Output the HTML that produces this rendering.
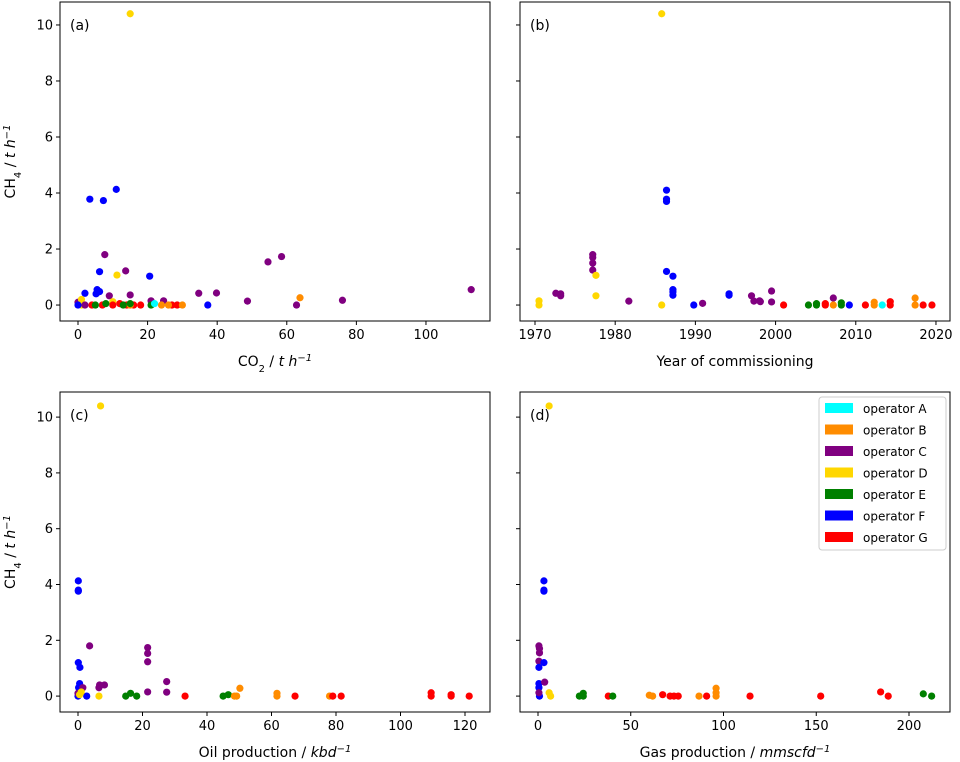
<!DOCTYPE html>
<html><head><meta charset="utf-8"><style>
body{margin:0;background:#fff;}
svg{display:block;font-family:"DejaVu Sans","Liberation Sans",sans-serif;}
</style></head><body>
<svg id="chart" width="960" height="762"></svg>
<script>
const operators=["operator A","operator B","operator C","operator D","operator E","operator F","operator G"];
const opColors=["#00ffff","#ff8c00","#800080","#ffd700","#008000","#0000ff","#ff0000"];
// [x, ch4, operatorIndex]
const dataA=[[15,10.4,3],[3.4,3.78,5],[7.3,3.73,5],[11,4.13,5],[7.7,1.8,2],[6.2,1.19,5],[11.2,1.07,3],[13.7,1.22,2],[20.6,1.03,5],[54.6,1.54,2],[58.5,1.73,2],[34.7,0.42,2],[39.8,0.43,2],[48.7,0.14,2],[63.8,0.26,1],[62.8,0,2],[37.3,0,5],[113,0.55,2],[76,0.17,2],
[2,0.42,5],[5.5,0.55,5],[6.2,0.48,5],[5.2,0.4,5],[9,0.33,2],[15,0.36,2],[21,0.15,2],[24.6,0.15,2],[0,0.1,2],[1,0.2,3],[10,0.12,3],
[4,0,6],[7,0,6],[10,0,6],[12,0.05,6],[14,0,6],[16,0,6],[18,0,6],[27,0,6],[28.5,0,6],[15,0,1],[24,0,1],[26,0,1],[30,0,1],[5,0,4],[8,0.05,4],[13,0,4],[15,0.05,4],[21,0,4],[22,0.05,0],[1,0,3],[0,0,5],[2,0,2]];
const dataB=[[1985.8,10.4,3],[1970.5,0.15,3],[1970.5,0,3],[1972.6,0.42,2],[1973.2,0.4,2],[1973.2,0.33,2],[1977.2,1.8,2],[1977.2,1.7,2],[1977.2,1.5,2],[1977.2,1.25,2],[1977.6,1.06,3],[1977.6,0.33,3],[1981.7,0.14,2],[1985.8,0,3],
[1986.4,4.1,5],[1986.4,3.78,5],[1986.4,3.7,5],[1986.4,1.2,5],[1987.2,1.03,5],[1987.2,0.55,5],[1987.2,0.47,5],[1987.2,0.35,5],[1989.8,0,5],[1990.9,0.06,2],[1994.2,0.35,5],[1994.2,0.4,5],
[1997,0.33,2],[1997.3,0.14,2],[1998,0.15,2],[1998.1,0.12,2],[1999.5,0.5,2],[1999.5,0.11,2],[2001,0,6],[2004.1,0,4],[2005.1,0.05,4],[2005.1,0,4],[2006.2,0.05,6],[2006.2,0,6],[2007.2,0.25,2],[2007.2,0,1],[2008.2,0.08,4],[2008.2,0,4],[2009.2,0,5],
[2011.2,0,6],[2012.3,0.1,1],[2012.3,0,1],[2013.3,0,0],[2014.3,0.12,6],[2014.3,0,6],[2017.4,0.25,1],[2017.4,0,1],[2018.4,0,6],[2019.5,0,6]];
const dataC=[[7,10.4,3],[0.1,4.13,5],[0.1,3.8,5],[0.1,3.76,5],[3.6,1.8,2],[0.1,1.2,5],[0.6,1.03,5],[21.6,1.74,2],[21.6,1.53,2],[21.6,1.23,2],[27.5,0.52,2],[27.5,0.14,2],[21.6,0.15,2],
[0.5,0.45,5],[0.2,0.3,5],[2.7,0,5],[0,0,5],[1.5,0.3,2],[6.7,0.4,2],[8.2,0.4,2],[6.5,0.3,2],[0,0.1,2],[1,0.15,3],[6.5,0,3],[0.5,0.05,3],
[14.8,0,4],[16.3,0.1,4],[18.2,0,4],[33.2,0,6],[45,0,4],[46.6,0.05,4],[49.2,0,1],[50.2,0.28,1],[48.5,0,1],[61.7,0.1,1],[61.7,0,1],[67.3,0,6],[78,0,1],[79,0,6],[81.6,0,6],[109.5,0.12,6],[109.5,0,6],[115.7,0.05,6],[115.7,0,6],[121.3,0,6]];
const dataD=[[6,10.4,3],[3.2,4.13,5],[3.2,3.76,5],[3.2,3.8,5],[0.5,1.8,2],[0.8,1.7,2],[0.8,1.55,2],[0.5,1.25,2],[3.2,1.2,5],[0.5,1.03,5],[0.5,0.45,5],[0.5,0.3,5],[0.8,0,5],[3.6,0.5,2],[0.5,0.12,2],[6,0.12,3],[6.8,0,3],
[22.3,0,4],[24.4,0.1,4],[24.4,0,4],[37.9,0,6],[40.3,0,4],[60,0.03,1],[61.8,0,1],[67.2,0.05,6],[71.2,0,6],[73.3,0,6],[75.6,0,6],[86.8,0,1],[90.9,0,6],[96,0.28,1],[96,0.12,1],[96,0,1],[114.3,0,6],[152.4,0,6],[184.7,0.15,6],[188.8,0,6],[207.7,0.08,4],[212.2,0,4]];
const xTicksA=[0,20,40,60,80,100];
const xTicksB=[1970,1980,1990,2000,2010,2020];
const xTicksC=[0,20,40,60,80,100,120];
const xTicksD=[0,50,100,150,200];
const yTicks=[0,2,4,6,8,10];

const NS="http://www.w3.org/2000/svg";
const svg=document.getElementById('chart');
function mk(tag,attrs,parent){const e=document.createElementNS(NS,tag);for(const k in attrs)e.setAttribute(k,attrs[k]);(parent||svg).appendChild(e);return e;}

const panels=[
 {id:'a',L:60,R:490,T:2,B:321,x0:-5.17,x1:118.4,y0:-0.57,y1:10.82,data:dataA,ticks:xTicksA,yLabels:true,xlabel:'CO<tspan baseline-shift="sub" font-size="10">2</tspan> / <tspan font-style="italic">t h</tspan><tspan baseline-shift="super" font-size="10" font-style="italic">−1</tspan>'},
 {id:'b',L:520,R:950,T:2,B:321,x0:1968.13,x1:2021.75,y0:-0.57,y1:10.82,data:dataB,ticks:xTicksB,yLabels:false,xlabel:'Year of commissioning'},
 {id:'c',L:60,R:490,T:392,B:712,x0:-5.58,x1:127.75,y0:-0.57,y1:10.9,data:dataC,ticks:xTicksC,yLabels:true,xlabel:'Oil production / <tspan font-style="italic">kbd</tspan><tspan baseline-shift="super" font-size="10" font-style="italic">−1</tspan>'},
 {id:'d',L:520,R:950,T:392,B:712,x0:-9.7,x1:222.1,y0:-0.57,y1:10.9,data:dataD,ticks:xTicksD,yLabels:false,xlabel:'Gas production / <tspan font-style="italic">mmscfd</tspan><tspan baseline-shift="super" font-size="10" font-style="italic">−1</tspan>'}
];

panels.forEach(p=>{
 const g=mk('g',{});
 
 
 const sx=v=>p.L+(v-p.x0)/(p.x1-p.x0)*(p.R-p.L);
 const sy=v=>p.B-(v-p.y0)/(p.y1-p.y0)*(p.B-p.T);
 p.data.forEach(d=>{
  const c=mk('circle',{cx:sx(d[0]),cy:sy(d[1]),r:3.6,fill:opColors[d[2]]},g);
  
  
 });
 const fr=mk('rect',{x:p.L,y:p.T,width:p.R-p.L,height:p.B-p.T,fill:'none',stroke:'#000','stroke-width':1},g);
 
 
 p.ticks.forEach(t=>{
  const x=sx(t);
  mk('line',{x1:x,x2:x,y1:p.B,y2:p.B+4,stroke:'#000'},g);
  const tx=mk('text',{x:x,y:p.B+18,'font-size':13,'text-anchor':'middle'},g);
  tx.textContent=t;
  
  
 });
 yTicks.forEach(t=>{
  const y=sy(t);
  mk('line',{x1:p.L-4,x2:p.L,y1:y,y2:y,stroke:'#000'},g);
  if(p.yLabels){
   const tx=mk('text',{x:p.L-7,y:y+4.5,'font-size':13,'text-anchor':'end'},g);
   tx.textContent=t;
   
   
  }
 });
 const pl=mk('text',{x:p.L+10,y:p.T+28,'font-size':14},g);
 pl.textContent='('+p.id+')';
 
 
 const xl=mk('text',{x:(p.L+p.R)/2,y:p.B+45,'font-size':14,'text-anchor':'middle'},g);
 xl.innerHTML=p.xlabel;
 
 
 if(p.yLabels){
  const cy=(p.T+p.B)/2;
  const yl=mk('text',{x:15,y:cy,'font-size':14,'text-anchor':'middle',transform:'rotate(-90 15 '+cy+')'},g);
  yl.innerHTML='CH<tspan baseline-shift="sub" font-size="10">4</tspan> / <tspan font-style="italic">t h</tspan><tspan baseline-shift="super" font-size="10" font-style="italic">−1</tspan>';
  
  
 }
});

// legend
const lg=mk('g',{});


mk('rect',{x:819,y:397,width:127,height:153,rx:3,fill:'#fff','fill-opacity':0.8,stroke:'#ccc'},lg);
operators.forEach((op,i)=>{
 const y=403+i*21.5;
 const e=mk('g',{},lg);
 
 
 mk('rect',{x:825,y:y,width:28,height:10,fill:opColors[i]},e);
 const t=mk('text',{x:863,y:y+10,'font-size':12},e);
 t.textContent=op;
});
</script>
</body></html>
